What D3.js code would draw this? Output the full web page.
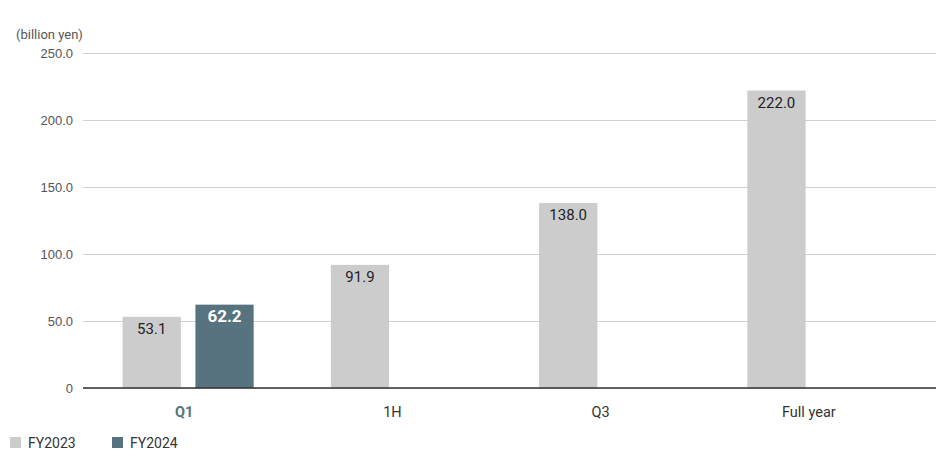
<!DOCTYPE html>
<html>
<head>
<meta charset="utf-8">
<script src="https://cdn.jsdelivr.net/npm/d3@7"></script>
<style>
  body { margin: 0; background: #fff; }
  svg { font-family: Roboto, 'Noto Sans', sans-serif; }
</style>
</head>
<body>
<svg id="chart" width="936" height="456"></svg>
<script>
const categories = ['Q1', '1H', 'Q3', 'Full year'];
const seriesNames = ['FY2023', 'FY2024'];
const fy2023 = [53.1, 91.9, 138.0, 222.0];
const fy2024 = [62.2, null, null, null];
const yTicks = [0, 50, 100, 150, 200, 250];
const unitLabel = '(billion yen)';

const colors = { FY2023: '#cccccc', FY2024: '#57737f' };

const svg = d3.select('#chart');
const margin = { top: 53, bottom: 68, left: 84, right: 19 };
const height = 456;

const x0 = d3.scaleBand().domain(categories).range([84, 917]);
const x1 = d3
  .scaleBand()
  .domain(seriesNames)
  .range([0, x0.bandwidth()])
  .paddingInner(0.2)
  .paddingOuter(0.53);
const y = d3.scaleLinear().domain([0, 250]).range([height - margin.bottom, margin.top]);

// grid
const yAxis = d3
  .axisLeft(y)
  .tickValues(yTicks)
  .tickFormat((d) => (d === 0 ? '0' : d3.format('.1f')(d)))
  .tickSizeInner(-(936 - 83))
  .tickSizeOuter(0)
  .tickPadding(10);

const yg = svg.append('g').attr('transform', 'translate(83,0)').call(yAxis);
yg.selectAll('.domain').remove();
yg.selectAll('.tick line').attr('stroke', '#cfcfcf').attr('stroke-width', 1);
yg.selectAll('.tick text')
  .attr('fill', '#555')
  .style('font-size', '13px')
  .attr('x', -10);

svg
  .append('text')
  .attr('x', 16)
  .attr('y', 39)
  .attr('fill', '#555')
  .style('font-size', '13px')
  .text(unitLabel);

const data = categories.map((c, i) => ({
  cat: c,
  values: [
    { key: 'FY2023', value: fy2023[i] },
    { key: 'FY2024', value: fy2024[i] },
  ].filter((d) => d.value != null),
}));

const groups = svg
  .selectAll('.group')
  .data(data)
  .enter()
  .append('g')
  .attr('class', 'group')
  .attr('transform', (d) => `translate(${x0(d.cat)},0)`);

groups
  .selectAll('rect')
  .data((d) => d.values)
  .enter()
  .append('rect')
  .attr('x', (d) => x1(d.key))
  .attr('y', (d) => y(d.value))
  .attr('width', x1.bandwidth())
  .attr('height', (d) => y(0) - y(d.value))
  .attr('fill', (d) => colors[d.key]);

groups
  .selectAll('.val')
  .data((d) => d.values)
  .enter()
  .append('text')
  .attr('class', 'val')
  .attr('x', (d) => x1(d.key) + x1.bandwidth() / 2)
  .attr('y', (d) => y(d.value) + 17)
  .attr('text-anchor', 'middle')
  .attr('fill', (d) => (d.key === 'FY2024' ? '#fff' : '#222'))
  .style('font-size', (d) => (d.key === 'FY2024' ? '17px' : '15px'))
  .style('font-weight', (d) => (d.key === 'FY2024' ? 'bold' : 'normal'))
  .text((d) => d3.format('.1f')(d.value));

// baseline
svg
  .append('line')
  .attr('x1', 83)
  .attr('x2', 936)
  .attr('y1', y(0))
  .attr('y2', y(0))
  .attr('stroke', '#333')
  .attr('stroke-width', 1.5);

svg
  .selectAll('.cat')
  .data(categories)
  .enter()
  .append('text')
  .attr('class', 'cat')
  .attr('x', (d) => x0(d) + x0.bandwidth() / 2 - 4)
  .attr('y', 417)
  .attr('text-anchor', 'middle')
  .attr('fill', (d, i) => (i === 0 ? colors.FY2024 : '#333'))
  .style('font-size', '14.5px')
  .style('font-weight', (d, i) => (i === 0 ? 'bold' : 'normal'))
  .text((d) => d);

// legend
const legend = svg
  .selectAll('.legend')
  .data(seriesNames)
  .enter()
  .append('g')
  .attr('class', 'legend')
  .attr('transform', (d, i) => `translate(${10 + i * 102},437)`);

legend
  .append('rect')
  .attr('width', 11)
  .attr('height', 11)
  .attr('fill', (d) => colors[d]);

legend
  .append('text')
  .attr('x', 18)
  .attr('y', 11)
  .attr('fill', '#333')
  .style('font-size', '14px')
  .text((d) => d);
</script>
</body>
</html>
